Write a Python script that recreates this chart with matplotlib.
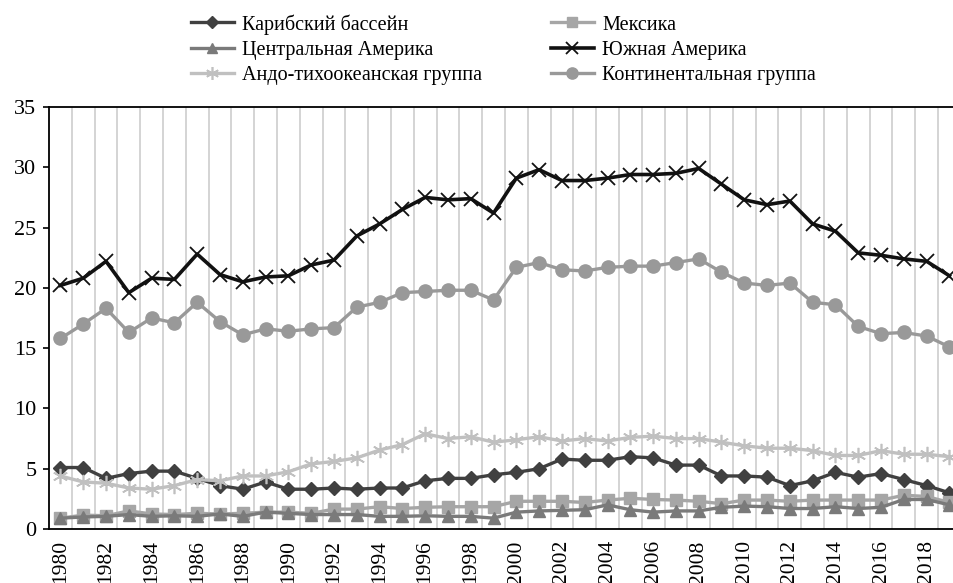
import numpy as np
import matplotlib.pyplot as plt

plt.rcParams['font.family'] = ['Liberation Serif', 'DejaVu Serif']

years = list(range(1980, 2020))

caribbean = [5.1, 5.1, 4.2, 4.6, 4.8, 4.8, 4.2, 3.6, 3.3, 3.9, 3.3, 3.3,
             3.4, 3.3, 3.4, 3.4, 4.0, 4.2, 4.2, 4.5, 4.7, 5.0, 5.8, 5.7,
             5.7, 6.0, 5.9, 5.3, 5.3, 4.4, 4.4, 4.3, 3.6, 4.0, 4.7, 4.3,
             4.6, 4.1, 3.6, 3.0]
mexico = [0.9, 1.15, 1.1, 1.5, 1.25, 1.2, 1.3, 1.25, 1.3, 1.4, 1.4, 1.3,
          1.65, 1.65, 1.85, 1.7, 1.8, 1.85, 1.85, 1.85, 2.3, 2.3, 2.3, 2.2,
          2.4, 2.55, 2.45, 2.4, 2.3, 2.1, 2.4, 2.4, 2.3, 2.4, 2.4, 2.4,
          2.4, 2.8, 2.7, 2.2]
central = [0.9, 1.0, 1.05, 1.2, 1.05, 1.1, 1.05, 1.25, 1.05, 1.4, 1.3, 1.2,
           1.2, 1.2, 1.05, 1.05, 1.1, 1.05, 1.05, 0.9, 1.4, 1.5, 1.55, 1.6,
           2.0, 1.6, 1.4, 1.5, 1.5, 1.8, 1.9, 1.85, 1.7, 1.7, 1.85, 1.7,
           1.8, 2.45, 2.45, 2.0]
south = [20.2, 20.8, 22.2, 19.6, 20.8, 20.7, 22.8, 21.1, 20.5, 20.9, 21.0, 21.9,
         22.3, 24.3, 25.3, 26.5, 27.5, 27.3, 27.4, 26.2, 29.1, 29.8, 28.9, 28.9,
         29.1, 29.4, 29.4, 29.5, 29.9, 28.6, 27.3, 26.9, 27.2, 25.3, 24.7, 22.9,
         22.7, 22.4, 22.2, 21.0]
andean = [4.4, 3.9, 3.8, 3.4, 3.3, 3.6, 4.1, 4.0, 4.4, 4.4, 4.75, 5.4,
          5.6, 5.9, 6.55, 7.0, 7.9, 7.5, 7.65, 7.2, 7.4, 7.65, 7.3, 7.5,
          7.3, 7.6, 7.7, 7.5, 7.5, 7.2, 6.9, 6.7, 6.7, 6.5, 6.1, 6.1,
          6.5, 6.2, 6.2, 6.0]
continental = [15.8, 17.0, 18.3, 16.3, 17.5, 17.1, 18.8, 17.2, 16.1, 16.6, 16.4, 16.6,
               16.7, 18.4, 18.8, 19.6, 19.7, 19.8, 19.8, 19.0, 21.7, 22.1, 21.5, 21.4,
               21.7, 21.8, 21.8, 22.1, 22.4, 21.3, 20.4, 20.2, 20.4, 18.8, 18.6, 16.8,
               16.2, 16.3, 16.0, 15.1]

x = np.arange(len(years))

fig = plt.figure(figsize=(9.54, 5.83), dpi=100)
ax = fig.add_axes([0.0514, 0.0926, 0.9486, 0.7239])

# vertical grid between categories
for k in range(len(years) - 1):
    ax.axvline(k + 0.5, color='#d4d4d4', lw=1.4, zorder=0)

lines = {}
lines['car'], = ax.plot(x, caribbean, color='#404040', lw=2.4, marker='D', ms=7.5,
                        label='Карибский бассейн')
lines['mex'], = ax.plot(x, mexico, color='#a6a6a6', lw=2.4, marker='s', ms=8.5,
                        label='Мексика')
lines['cen'], = ax.plot(x, central, color='#7a7a7a', lw=2.4, marker='^', ms=8.5,
                        label='Центральная Америка')
lines['sou'], = ax.plot(x, south, color='#111111', lw=2.6, marker='x', ms=9.5, mew=1.3,
                        label='Южная Америка')
lines['and'], = ax.plot(x, andean, color='#c0c0c0', lw=2.4, marker=(6, 2, 0), ms=11,
                        mew=1.2, label='Андо-тихоокеанская группа')
lines['con'], = ax.plot(x, continental, color='#999999', lw=2.4, marker='o', ms=9.5,
                        label='Континентальная группа')

ax.set_xlim(-0.5, 39.2)
ax.set_ylim(0, 35)
ax.set_yticks(range(0, 36, 5))
ax.set_xticks(x[::2])
ax.set_xticklabels([str(y) for y in years[::2]], rotation=90)
ax.tick_params(axis='y', labelsize=16, length=4, width=1.2, pad=5)
ax.tick_params(axis='x', labelsize=15.5, length=0, pad=8)
for s in ['left', 'bottom', 'top']:
    ax.spines[s].set_color('black')
    ax.spines[s].set_linewidth(1.3)
ax.spines['right'].set_visible(False)

order = ['car', 'cen', 'and', 'mex', 'sou', 'con']
fig.legend([lines[k] for k in order], [lines[k].get_label() for k in order],
           ncol=2, loc='upper left', bbox_to_anchor=(0.181, 1.007), frameon=False,
           fontsize=14.5, handlelength=2.15, columnspacing=3.4, labelspacing=0.3,
           handletextpad=0.4, markerscale=0.85)

fig.savefig('out.png', dpi=100)
